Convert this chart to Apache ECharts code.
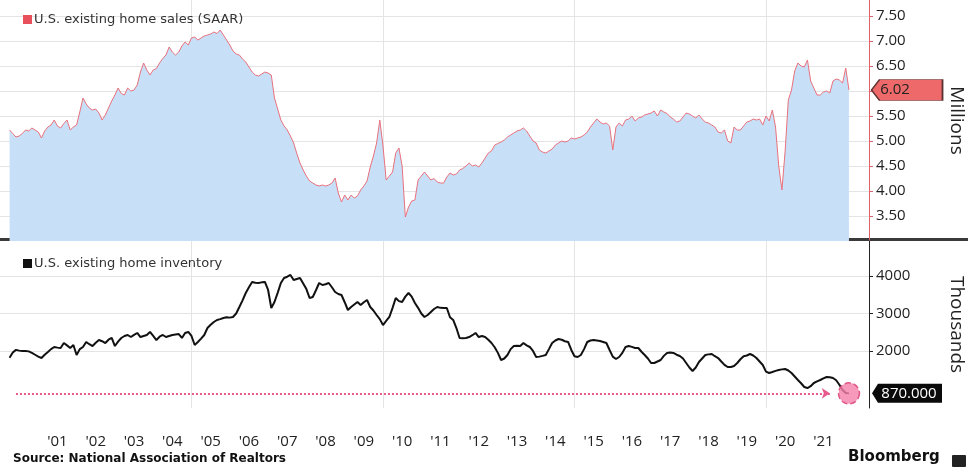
<!DOCTYPE html>
<html>
<head>
<meta charset="utf-8">
<title>U.S. existing home sales and inventory</title>
<script src="https://cdn.jsdelivr.net/npm/echarts@6/dist/echarts.min.js"></script>
<style>
  html, body { margin: 0; padding: 0; background: #fff; }
  #chart { width: 980px; height: 471px; }
</style>
</head>
<body>
<div id="chart"></div>
<script>
// monthly values, month-end, from Mar 2000 to Feb 2022
const firstYear = 2000;
const firstMonth = 3;

// existing home sales, SAAR, millions
const sales = [
  5.22, 5.15, 5.08, 5.10, 5.15, 5.22, 5.20, 5.26, 5.22, 5.18,                  // 2000
  5.06, 5.20, 5.28, 5.32, 5.42, 5.30, 5.26, 5.35, 5.42, 5.22, 5.28, 5.32,      // 2001
  5.58, 5.86, 5.74, 5.66, 5.62, 5.64, 5.56, 5.42, 5.52, 5.66, 5.80, 5.92,      // 2002
  6.06, 5.95, 5.92, 6.06, 6.00, 6.02, 6.12, 6.38, 6.56, 6.42, 6.32, 6.42,      // 2003
  6.45, 6.56, 6.65, 6.72, 6.88, 6.78, 6.72, 6.78, 6.90, 6.98, 6.92, 7.06,      // 2004
  7.08, 7.02, 7.06, 7.10, 7.12, 7.14, 7.18, 7.15, 7.22, 7.12, 7.02, 6.92,      // 2005
  6.80, 6.74, 6.72, 6.64, 6.58, 6.48, 6.38, 6.32, 6.30, 6.34, 6.38, 6.36,      // 2006
  6.32, 5.86, 5.64, 5.42, 5.30, 5.22, 5.10, 4.96, 4.75, 4.56, 4.42, 4.30,      // 2007
  4.20, 4.16, 4.12, 4.10, 4.12, 4.10, 4.12, 4.16, 4.26, 3.96, 3.78, 3.92,      // 2008
  3.82, 3.92, 3.86, 3.90, 4.02, 4.10, 4.20, 4.48, 4.70, 4.96, 5.42, 4.90,      // 2009
  4.22, 4.30, 4.38, 4.76, 4.86, 4.50, 3.48, 3.68, 3.80, 3.82, 4.22, 4.30,      // 2010
  4.38, 4.30, 4.22, 4.25, 4.18, 4.16, 4.16, 4.28, 4.36, 4.32, 4.34, 4.42,      // 2011
  4.45, 4.50, 4.56, 4.50, 4.52, 4.48, 4.56, 4.66, 4.76, 4.80, 4.92, 4.95,      // 2012
  4.98, 5.02, 5.08, 5.12, 5.16, 5.20, 5.22, 5.26, 5.20, 5.10, 5.00, 4.96,      // 2013
  4.82, 4.78, 4.76, 4.80, 4.84, 4.92, 4.96, 5.00, 4.98, 5.00, 5.06, 5.04,      // 2014
  5.06, 5.08, 5.12, 5.18, 5.28, 5.36, 5.44, 5.38, 5.34, 5.36, 5.30, 4.82,      // 2015
  5.28, 5.36, 5.30, 5.42, 5.44, 5.50, 5.40, 5.46, 5.48, 5.52, 5.54, 5.56,      // 2016
  5.60, 5.50, 5.62, 5.58, 5.55, 5.48, 5.44, 5.38, 5.40, 5.48, 5.56, 5.54,      // 2017
  5.50, 5.46, 5.52, 5.44, 5.38, 5.36, 5.32, 5.28, 5.18, 5.16, 5.22, 5.00,      // 2018
  4.96, 5.28, 5.22, 5.22, 5.30, 5.38, 5.40, 5.44, 5.42, 5.44, 5.32, 5.50,      // 2019
  5.40, 5.62, 5.28, 4.50, 4.02, 4.80, 5.82, 6.02, 6.40, 6.56, 6.50, 6.48,      // 2020
  6.62, 6.20, 6.06, 5.92, 5.92, 5.98, 6.00, 5.96, 6.20, 6.24, 6.22, 6.16,      // 2021
  6.46, 6.02                                                                   // 2022
];

// existing home inventory, thousands
const inventory = [
  1820, 1960, 2030, 2010, 2000, 2000, 1990, 1950, 1900, 1850,                  // 2000
  1813, 1900, 1973, 2050, 2107, 2090, 2080, 2213, 2150, 2080, 2160, 1893,      // 2001
  2050, 2107, 2240, 2180, 2133, 2220, 2293, 2260, 2213, 2300, 2347, 2133,      // 2002
  2250, 2347, 2400, 2427, 2373, 2430, 2480, 2373, 2400, 2427, 2507, 2400,      // 2003
  2293, 2380, 2427, 2373, 2400, 2427, 2440, 2453, 2347, 2480, 2507, 2400,      // 2004
  2160, 2240, 2330, 2427, 2613, 2700, 2773, 2827, 2850, 2880, 2900, 2890,      // 2005
  2907, 3000, 3173, 3350, 3547, 3700, 3840, 3820, 3813, 3830, 3840, 3627,      // 2006
  3147, 3307, 3550, 3813, 3947, 3980, 4027, 3893, 3920, 3947, 3800, 3650,      // 2007
  3413, 3440, 3620, 3813, 3760, 3780, 3813, 3700, 3573, 3520, 3493, 3300,      // 2008
  3093, 3173, 3240, 3307, 3227, 3300, 3360, 3173, 3080, 2960, 2850, 2693,      // 2009
  2800, 2907, 3150, 3413, 3330, 3307, 3450, 3547, 3450, 3280, 3150, 3000,      // 2010
  2907, 2960, 3040, 3120, 3173, 3150, 3147, 3147, 2900, 2827, 2613, 2347,      // 2011
  2340, 2347, 2373, 2420, 2480, 2373, 2400, 2373, 2300, 2213, 2100, 1950,      // 2012
  1760, 1800, 1893, 2050, 2133, 2140, 2133, 2213, 2150, 2107, 2000, 1840,      // 2013
  1850, 1870, 1893, 2050, 2213, 2280, 2320, 2300, 2260, 2240, 2027, 1860,      // 2014
  1840, 1893, 2050, 2240, 2280, 2293, 2280, 2267, 2240, 2213, 2027, 1850,      // 2015
  1787, 1840, 1950, 2107, 2133, 2110, 2080, 2080, 1980, 1893, 1800, 1680,      // 2016
  1680, 1720, 1760, 1870, 1947, 1960, 1947, 1900, 1867, 1800, 1680, 1560,      // 2017
  1467, 1560, 1707, 1800, 1893, 1910, 1920, 1860, 1813, 1720, 1630, 1573,      // 2018
  1573, 1600, 1680, 1780, 1860, 1880, 1920, 1880, 1813, 1720, 1627, 1450,      // 2019
  1413, 1440, 1470, 1493, 1510, 1520, 1480, 1413, 1320, 1227, 1140, 1040,      // 2020
  1013, 1060, 1147, 1190, 1227, 1270, 1307, 1300, 1280, 1220, 1100, 960,       // 2021
  880, 870                                                                     // 2022
];

const labelYears = [2001, 2002, 2003, 2004, 2005, 2006, 2007, 2008, 2009, 2010,
  2011, 2012, 2013, 2014, 2015, 2016, 2017, 2018, 2019, 2020, 2021];
const salesTicks = [3.5, 4.0, 4.5, 5.0, 5.5, 6.0, 6.5, 7.0, 7.5];
const inventoryTicks = [2000, 3000, 4000];

const salesName = 'U.S. existing home sales (SAAR)';
const inventoryName = 'U.S. existing home inventory';

// month-end position as decimal year
function monthX(i) {
  return firstYear + (firstMonth + i) / 12;
}
const salesData = sales.map((v, i) => [monthX(i), v]);
const inventoryData = inventory.map((v, i) => [monthX(i), v]);

const xMin = 2000, xMax = 2022.69;
const last = sales.length - 1;
const lastX = monthX(last);
const lastSales = sales[last];
const lastInv = inventory[inventory.length - 1];

const FONT = '"Open Sans", sans-serif';
const LEGEND_FONT = '"DejaVu Sans", sans-serif';
const gridColor = '#e4e4e4';

const chart = echarts.init(document.getElementById('chart'));

const xAxisBase = {
  type: 'value',
  min: xMin,
  max: xMax,
  interval: 5,
  axisLine: { show: false },
  axisTick: { show: false },
  splitLine: { show: true, showMinLine: false, showMaxLine: false, lineStyle: { color: gridColor } }
};

chart.setOption({
  animation: false,
  textStyle: { fontFamily: FONT },
  grid: [
    { left: 0, right: 111, top: 0, height: 241 },
    { left: 0, right: 111, top: 241, height: 167 }
  ],
  legend: [
    {
      data: [salesName], left: 18, top: 8, icon: 'rect',
      itemWidth: 9, itemHeight: 9, itemGap: 4,
      textStyle: { fontFamily: LEGEND_FONT, fontSize: 13, color: '#333', padding: [0, 0, 0, -3] }
    },
    {
      data: [inventoryName], left: 18, top: 252, icon: 'rect',
      itemWidth: 9, itemHeight: 9, itemGap: 4,
      textStyle: { fontFamily: LEGEND_FONT, fontSize: 13, color: '#333', padding: [0, 0, 0, -3] }
    }
  ],
  xAxis: [
    Object.assign({ gridIndex: 0, axisLabel: { show: false } }, xAxisBase),
    Object.assign({
      gridIndex: 1,
      axisLabel: {
        customValues: labelYears.map(y => y + 0.5),
        formatter: v => "'" + String(Math.floor(v)).slice(2),
        margin: 26, fontSize: 15, color: '#222', fontFamily: FONT
      }
    }, xAxisBase)
  ],
  yAxis: [
    {
      gridIndex: 0, type: 'value', position: 'right',
      min: 3.0, max: 7.82,
      axisLine: { show: true, lineStyle: { color: '#e0606c' } },
      axisTick: { show: true, length: 4, customValues: salesTicks, lineStyle: { color: '#e0606c' } },
      axisLabel: {
        customValues: salesTicks, formatter: v => v.toFixed(2),
        fontSize: 15, color: '#222', margin: 7
      },
      splitLine: { show: true, lineStyle: { color: gridColor } },
      name: 'Millions', nameLocation: 'middle', nameRotate: -90, nameGap: 78,
      nameTextStyle: { fontSize: 19, color: '#222' }
    },
    {
      gridIndex: 1, type: 'value', position: 'right',
      min: 480, max: 4933,
      axisLine: { show: true, lineStyle: { color: '#222' } },
      axisTick: { show: true, length: 4, customValues: inventoryTicks, lineStyle: { color: '#222' } },
      axisLabel: { customValues: inventoryTicks, formatter: v => String(v), fontSize: 15, color: '#222', margin: 7 },
      splitLine: { show: true, lineStyle: { color: gridColor } },
      name: 'Thousands', nameLocation: 'middle', nameRotate: -90, nameGap: 78,
      nameTextStyle: { fontSize: 19, color: '#222' }
    }
  ],
  series: [
    {
      name: salesName, type: 'line', xAxisIndex: 0, yAxisIndex: 0,
      data: salesData, showSymbol: false,
      lineStyle: { color: '#e8707c', width: 1 },
      itemStyle: { color: '#e8505c' },
      areaStyle: { color: '#c8e0f7', opacity: 1 },
      markPoint: {
        silent: true,
        data: [{
          coord: [xMax, lastSales],
          symbol: 'path://M0,10 L8,0 L70,0 L70,20 L8,20 Z',
          symbolSize: [71, 21],
          symbolOffset: [38, 0],
          itemStyle: { color: '#ee6a6a', borderColor: '#5a3030', borderWidth: 1 },
          label: { show: true, formatter: lastSales.toFixed(2), color: '#222', fontSize: 15, offset: [-12, 0] }
        }]
      }
    },
    {
      name: inventoryName, type: 'line', xAxisIndex: 1, yAxisIndex: 1,
      data: inventoryData, showSymbol: false,
      lineStyle: { color: '#111', width: 2 },
      itemStyle: { color: '#111' },
      markLine: {
        silent: true, symbol: ['none', 'arrow'], symbolSize: 8,
        label: { show: false },
        lineStyle: { color: '#e8588c', type: 'dotted', width: 2 },
        data: [[{ coord: [inventoryData[2][0], lastInv] }, { coord: [inventoryData[last - 6][0], lastInv] }]]
      },
      markPoint: {
        silent: true,
        data: [
          {
            coord: [lastX, lastInv], symbol: 'circle', symbolSize: 21,
            itemStyle: { color: 'rgba(244,128,170,0.8)', borderColor: '#e05585', borderWidth: 1.5, borderType: 'dashed' },
            label: { show: false }
          },
          {
            coord: [xMax, lastInv],
            symbol: 'path://M0,10 L6,0 L70,0 L70,20 L6,20 Z',
            symbolSize: [70, 19],
            symbolOffset: [38, 0],
            itemStyle: { color: '#0a0a0a' },
            label: { show: true, formatter: lastInv.toFixed(3), color: '#fff', fontSize: 15, offset: [2, 0] }
          }
        ]
      }
    }
  ],
  graphic: [
    { type: 'rect', left: 0, top: 238, shape: { width: 968, height: 3 }, style: { fill: '#3a3a3a' } },
    {
      type: 'text', left: 13, top: 453,
      style: { text: 'Source: National Association of Realtors', font: 'bold 12px "DejaVu Sans"', fill: '#111' }
    },
    {
      type: 'text', left: 848, top: 450,
      style: { text: 'Bloomberg', font: 'bold 15px "DejaVu Sans"', fill: '#111' }
    },
    { type: 'rect', left: 952, top: 455, shape: { width: 14, height: 12, r: 1 }, style: { fill: '#222' } }
  ]
});
</script>
</body>
</html>
